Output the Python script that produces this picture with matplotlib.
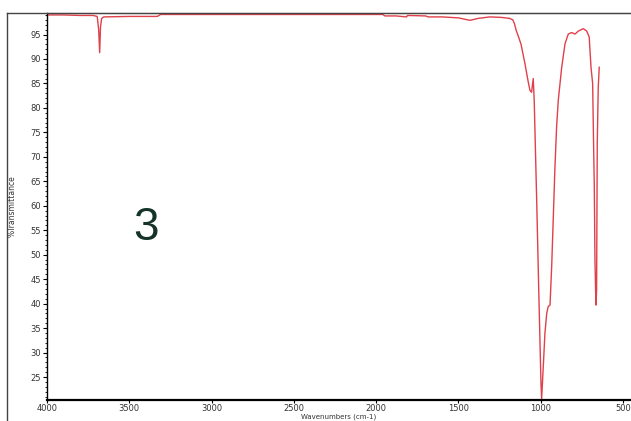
import numpy as np
import matplotlib
matplotlib.use('Agg')
import matplotlib.pyplot as plt
from matplotlib.lines import Line2D
from matplotlib.ticker import MultipleLocator

# IR spectrum (wavenumber, %T)
wn = [4000, 3900, 3800, 3720, 3695, 3686, 3680, 3675, 3668, 3655, 3500, 3330, 3310,
      2500, 1960, 1947, 1880, 1815, 1810, 1700, 1685, 1600, 1500, 1430, 1380,
      1310, 1240, 1190, 1170, 1160, 1150, 1135, 1120, 1096, 1078, 1066, 1056, 1046,
      1040, 1025, 1011, 999, 995, 985, 975, 964, 955, 944, 934, 924, 914, 904,
      894, 873, 853, 833, 813, 792, 772, 742, 721, 706, 695, 685, 681, 675,
      671, 665, 661, 657, 651, 645]
T = [99.0, 99.0, 98.9, 98.9, 98.7, 96.0, 91.3, 96.5, 98.3, 98.6, 98.7, 98.7, 99.1,
     99.1, 99.1, 98.8, 98.8, 98.6, 98.9, 98.8, 98.6, 98.6, 98.4, 97.9, 98.3,
     98.6, 98.5, 98.3, 98.0, 97.2, 95.9, 94.5, 93.0, 89.0, 85.6, 83.6, 83.2, 86.0,
     81.5, 61.1, 40.7, 23.8, 20.5, 27.1, 33.9, 38.0, 39.4, 39.7, 47.5, 57.7,
     67.9, 76.1, 81.5, 88.3, 93.1, 95.1, 95.4, 95.1, 95.7, 96.2, 95.7, 94.5,
     88.3, 85.0, 76.1, 63.8, 48.9, 39.7, 42.8, 72.7, 84.2, 88.3]

W, H = 631, 421
fig = plt.figure(figsize=(W/100, H/100), dpi=100)
ax = fig.add_axes([47/W, 1-400/H, (W-47)/W, 387/H])

ax.plot(wn, T, color='#e0404a', lw=1.0)

ax.set_xlim(4000, 452)
ax.set_ylim(20.3, 99.4)
ax.xaxis.set_major_locator(MultipleLocator(500))
ax.yaxis.set_minor_locator(MultipleLocator(1))
ax.set_yticks(np.arange(25, 100, 5))

ax.tick_params(axis='both', which='major', labelsize=6, length=3, width=0.8,
               pad=1.5, labelcolor='#333333')
ax.tick_params(axis='x', which='major', length=2.5, pad=0.5)
ax.tick_params(axis='y', which='minor', length=1.8, width=0.6)

for s in ['left', 'bottom']:
    ax.spines[s].set_color('black')
ax.spines['bottom'].set_linewidth(1.6)
ax.spines['left'].set_linewidth(1.0)
ax.spines['top'].set_color('#444444')
ax.spines['right'].set_visible(False)

ax.set_xlabel('Wavenumbers (cm-1)', fontsize=5, color='#333333')
ax.xaxis.set_label_coords(0.5, -13/387)
ax.set_ylabel('%Transmittance', fontsize=5.5, color='#333333')
ax.yaxis.set_label_coords(-30/(W-47), 0.5)

ax.text(3400, 55.4, '3', fontsize=33, color='#16332a', ha='center', va='center',
        family='Liberation Sans')

# outer frame
fig.add_artist(Line2D([7/W, 7/W], [0, 1-12.5/H], color='#444444', lw=1.0))
fig.add_artist(Line2D([7/W, 1], [1-12.5/H, 1-12.5/H], color='#444444', lw=1.0))

fig.savefig('out.png', dpi=100)
